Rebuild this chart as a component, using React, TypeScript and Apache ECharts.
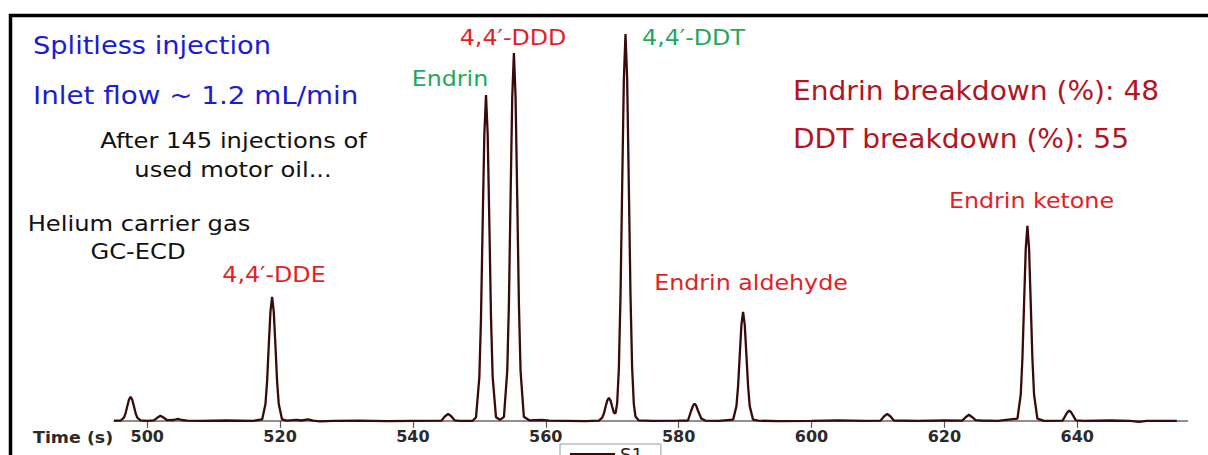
import React, { useEffect, useRef } from "react";
import * as echarts from "echarts";

// Chromatogram signal: [time (s), detector signal]
const earlySegment: [number, number][] = [
  [495, 0.2], [496, 0.3], [496.5, 3.2], [496.75, 7.7], [497, 14.6], [497.25, 21], [497.5, 24],
  [497.75, 21], [498, 14.6], [498.25, 7.7], [498.5, 3.2], [499, 0.4], [500, 0], [501, 0.5],
  [501.5, 3], [502, 5], [502.5, 3], [503, 0.6], [504, 0.8], [504.6, 2], [505.2, 0.8], [506, 0.2],
  [508, 0], [512, 0.3], [516, 0],
];
const ddeSegment: [number, number][] = [
  [517.3, 1.4], [517.8, 16.7], [518.05, 39.7], [518.3, 75.6], [518.55, 109], [518.8, 124],
  [519.05, 109], [519.3, 75.6], [519.55, 39.7], [519.8, 16.7], [520.3, 1.4], [521, 0.2],
  [522.5, 1], [523.2, 0.3], [524.2, 1.5], [525, 0.2], [526, -0.5], [528, 0], [532, 0.2],
  [536, -0.3], [540, 0],
];
const endrinDddSegment: [number, number][] = [
  [544.3, 0.2], [544.8, 4.3], [545.3, 7], [545.8, 4.3], [546.3, 0.4], [547, 0], [549, 0],
  [549.5, 3.6], [550, 44], [550.25, 104], [550.5, 199], [550.75, 287], [551, 326], [551.25, 287],
  [551.5, 199], [551.75, 104], [552, 44], [552.5, 3.6], [553.1, 1], [553.7, 4], [554.2, 50],
  [554.45, 118], [554.7, 224], [554.95, 324], [555.2, 368], [555.45, 324], [555.7, 224],
  [555.95, 118], [556.2, 50], [556.7, 4], [557.5, 0.5], [559.4, 0.8], [560.5, 0.2], [563, 0],
  [566, -0.3], [568, 0.25],
];
const ddtSegment: [number, number][] = [
  [568.5, 3.1], [568.75, 7.4], [569, 14], [569.25, 20.2], [569.5, 23], [569.75, 20.2],
  [570, 14.1], [570.25, 8.2], [570.5, 7.4], [570.75, 18], [571, 52.6], [571.25, 126],
  [571.5, 235], [571.75, 341.5], [572, 387], [572.25, 341.5], [572.5, 235], [572.75, 126],
  [573, 52.4], [573.25, 17], [573.5, 4.3], [574, 0.4], [576, 0], [580, 0.2],
];
const aldehydeSegment: [number, number][] = [
  [581.4, 0.3], [581.9, 10.3], [582.15, 15], [582.4, 17], [582.65, 15], [582.9, 10.3],
  [583.4, 2.3], [584, 0.2], [586, 0], [588.2, 1.2], [588.7, 14.7], [588.95, 35], [589.2, 66],
  [589.45, 96], [589.7, 109], [589.95, 96], [590.2, 66], [590.45, 35], [590.7, 14.7],
  [591.2, 1.2], [592, 0.1], [595, -0.3], [600, 0], [604, 0.4], [608, 0],
];
const ketoneSegment: [number, number][] = [
  [610.4, 0.2], [610.9, 4.3], [611.4, 7], [611.9, 4.3], [612.4, 0.3], [616, 0], [620, 0.3],
  [622.7, 0.2], [623.2, 3.6], [623.7, 6], [624.2, 3.6], [624.7, 0.6], [625.5, 0.3], [628, 0],
  [631, 2.1], [631.5, 26.3], [631.75, 62.6], [632, 118], [632.25, 172], [632.5, 195],
  [632.75, 172], [633, 118], [633.25, 62.6], [633.5, 26.3], [634, 2.1], [635, 0],
  [637.8, 0.2], [638.3, 6.1], [638.55, 8.8], [638.8, 10], [639.05, 8.8], [639.3, 6.1],
  [639.8, 0.5], [641, 0], [645, 0.3], [648, 0], [649.3, -1], [650.5, 0], [655, 0],
];

const tickValues = [500, 520, 540, 560, 580, 600, 620, 640];
const seriesName = "S1";
const axisTitle = "Time (s)";
const conditionTexts = ["Splitless injection", "Inlet flow ~ 1.2 mL/min"];
const noteTexts = ["After 145 injections of", "used motor oil...", "Helium carrier gas", "GC-ECD"];
const peakNames = ["4,4′-DDE", "Endrin", "4,4′-DDD", "4,4′-DDT", "Endrin aldehyde", "Endrin ketone"];
const breakdownTexts = ["Endrin breakdown (%): 48", "DDT breakdown (%): 55"];

const FONT = "'DejaVu Sans', Verdana, sans-serif";
const BLUE = "#1c1cd2";
const RED = "#e41e26";
const DARKRED = "#b5141e";
const GREEN = "#1fa85a";

function txt(
  text: string,
  x: number,
  yMid: number,
  size: number,
  fill: string,
  align: "left" | "center",
  scaleX = 1.1,
  weight: string = "normal"
) {
  return {
    type: "text",
    x,
    y: yMid,
    scaleX,
    z: 100,
    style: {
      text,
      x: 0,
      y: 0,
      fill,
      fontSize: size,
      fontFamily: FONT,
      fontWeight: weight,
      align,
      verticalAlign: "middle",
    },
  };
}

export default function App() {
  const ref = useRef<HTMLDivElement>(null);

  useEffect(() => {
    if (!ref.current) return;
    const chart = echarts.init(ref.current, undefined, { renderer: "svg" });
    const data = [
      ...earlySegment,
      ...ddeSegment,
      ...endrinDddSegment,
      ...ddtSegment,
      ...aldehydeSegment,
      ...ketoneSegment,
    ];

    chart.setOption({
      animation: false,
      backgroundColor: "#ffffff",
      grid: { left: 114, right: 20.5, top: 21, bottom: 33 },
      xAxis: {
        type: "value",
        min: 495,
        max: 656.6,
        splitLine: { show: false },
        axisLine: { show: true, lineStyle: { color: "#6a6a6a", width: 1.5 } },
        axisTick: {
          show: true,
          customValues: tickValues,
          length: 7,
          lineStyle: { color: "#555", width: 1.2 },
        },
        axisLabel: {
          customValues: tickValues,
          margin: 6,
          color: "#2a2a2a",
          fontSize: 16,
          fontWeight: "bold",
          fontFamily: FONT,
        },
      },
      yAxis: {
        type: "value",
        min: -1.2,
        max: 400,
        show: false,
        splitLine: { show: false },
      },
      legend: {
        show: true,
        data: [seriesName],
        left: 560,
        top: 444,
        icon: "rect",
        itemWidth: 45,
        itemHeight: 2,
        backgroundColor: "#ffffff",
        borderColor: "#9a9a9a",
        borderWidth: 1,
        padding: [1, 18, 4, 10],
        textStyle: { fontSize: 18, color: "#222", fontFamily: FONT },
      },
      series: [
        {
          name: seriesName,
          type: "line",
          data,
          showSymbol: false,
          symbol: "none",
          color: "#3a0a0a",
          lineStyle: { color: "#3a0a0a", width: 2.3 },
          z: 5,
        },
      ],
      graphic: [
        {
          type: "rect",
          z: 90,
          shape: { x: 10.5, y: 15.5, width: 1400, height: 700 },
          style: { fill: "none", stroke: "#000", lineWidth: 3.5 },
        },
        txt(conditionTexts[0], 33, 45.8, 25, BLUE, "left", 1.09),
        txt(conditionTexts[1], 33, 95.3, 25, BLUE, "left", 1.11),
        txt(noteTexts[0], 233.5, 140.3, 22, "#111", "center", 1.1),
        txt(noteTexts[1], 233, 169.3, 22, "#111", "center", 1.1),
        txt(noteTexts[2], 139, 223.3, 22, "#111", "center", 1.1),
        txt(noteTexts[3], 138, 251.3, 22, "#111", "center", 1.1),
        txt(peakNames[0], 274, 274.3, 22, RED, "center", 1.08),
        txt(peakNames[1], 450, 78.3, 22, GREEN, "center", 1.08),
        txt(peakNames[2], 513, 37.3, 22, RED, "center", 1.08),
        txt(peakNames[3], 693.5, 37.3, 22, GREEN, "center", 1.08),
        txt(peakNames[4], 751, 282.3, 22, RED, "center", 1.08),
        txt(peakNames[5], 1031.5, 200.3, 22, RED, "center", 1.08),
        txt(breakdownTexts[0], 793, 90.9, 26, DARKRED, "left", 1.08),
        txt(breakdownTexts[1], 793, 138.9, 26, DARKRED, "left", 1.08),
        txt(axisTitle, 33, 437, 16, "#2a2a2a", "left", 1.09, "bold"),
      ],
    });

    return () => chart.dispose();
  }, []);

  return (
    <div
      ref={ref}
      style={{ position: "absolute", left: 0, top: 0, width: 1208, height: 455 }}
    />
  );
}
